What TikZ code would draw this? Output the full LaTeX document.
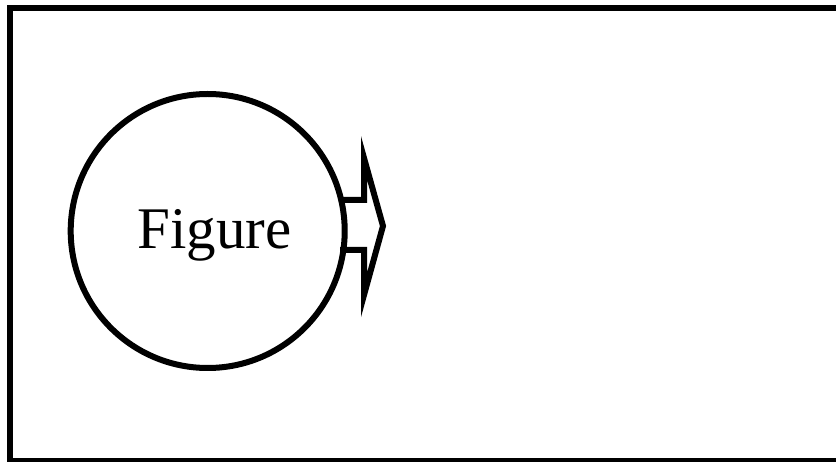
\documentclass[tikz,border=0pt]{standalone}
\usepackage{fontspec}
\setmainfont{Liberation Serif}
\begin{document}
\begin{tikzpicture}[x=1pt,y=-1pt,
  frame/.style={draw=black,line width=6pt},
  figcircle/.style={circle,draw=black,line width=6pt,minimum size=274pt,inner sep=0pt},
  figtext/.style={font=\fontsize{59}{64}\selectfont,anchor=base,inner sep=0pt},
  blockarrow/.style={draw=black,line width=6pt,line join=miter,miter limit=20}]
\useasboundingbox (0,0) rectangle (836,462);
\draw[frame] (10,8) rectangle (850,461);
\node[figcircle] (fig) at (207.7,231) {};
\node[figtext] (lbl) at (214.5,248.5) {Figure};
\coordinate (a1) at (340,200);
\coordinate (a2) at (340,250);
\draw[blockarrow] (a1) -- (364,200) -- (364,158) -- (383,226) -- (364,295) -- (364,250) -- (a2);
\end{tikzpicture}
\end{document}
